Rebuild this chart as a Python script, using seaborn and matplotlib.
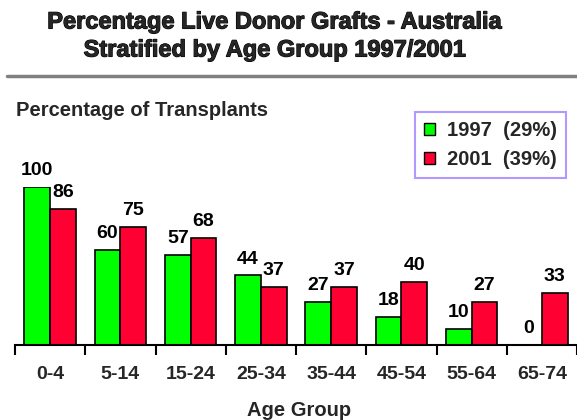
import matplotlib
matplotlib.use("Agg")
import matplotlib.pyplot as plt
import matplotlib.patheffects as pe
import seaborn as sns
import pandas as pd
from matplotlib.lines import Line2D
from matplotlib.patches import Patch

age_groups = ["0-4", "5-14", "15-24", "25-34", "35-44", "45-54", "55-64", "65-74"]
values_1997 = [100, 60, 57, 44, 27, 18, 10, 0]
values_2001 = [86, 75, 68, 37, 37, 40, 27, 33]
series_labels = ["1997  (29%)", "2001  (39%)"]
colors = ["#00FF00", "#FF0033"]

df = pd.DataFrame({
    "age": age_groups * 2,
    "value": values_1997 + values_2001,
    "year": [series_labels[0]] * len(age_groups) + [series_labels[1]] * len(age_groups),
})

sns.set_theme(style="white")
plt.rcParams["font.family"] = ["Liberation Sans", "DejaVu Sans"]

W, H = 577, 420
fig = plt.figure(figsize=(W / 100, H / 100), dpi=100)
# axes: x from 15 px to 577 px; baseline at y=345 px; 100 at y=187 px
ax = fig.add_axes([15 / W, (H - 345) / H, (W - 15) / W, (345 - 187) / H])

sns.barplot(data=df, x="age", y="value", hue="year", palette=colors,
            width=0.73, gap=0, edgecolor="black", linewidth=1.2,
            saturation=1, ax=ax, legend=False)

ax.set_xlim(-0.5, -0.5 + (W - 15) / 71)
ax.set_ylim(0, 100)

# value labels
for container in ax.containers:
    for bar in container:
        h = bar.get_height()
        ax.text(bar.get_x() + bar.get_width() / 2, h + 5, f"{int(h)}",
                ha="center", va="bottom", fontsize=14, fontweight="bold",
                color="black", clip_on=False)

for s in ["top", "right", "left"]:
    ax.spines[s].set_visible(False)
ax.spines["bottom"].set_color("black")
ax.spines["bottom"].set_linewidth(1.5)
ax.set_yticks([])
ax.set_ylabel("")
ax.set_xlabel("Age Group", fontsize=14.5, fontweight="bold")
ax.xaxis.set_label_coords((299 - 15) / (W - 15), -(401 - 345) / (345 - 187))
ax.set_xticks(range(len(age_groups)))
ax.set_xticklabels(age_groups, fontsize=14, fontweight="bold")
ax.tick_params(axis="x", which="major", length=0, pad=15)
ax.set_xticks([i - 0.5 for i in range(len(age_groups) + 1)], minor=True)
ax.tick_params(axis="x", which="minor", length=7, width=1.5, color="black",
               direction="out", bottom=True)

# title
stroke = [pe.withStroke(linewidth=0.8, foreground="black")]
fig.text(275 / W, 1 - 22 / H, "Percentage Live Donor Grafts - Australia",
         ha="center", va="center", fontsize=17, fontweight="heavy",
         path_effects=stroke)
fig.text(275 / W, 1 - 50 / H, "Stratified by Age Group 1997/2001",
         ha="center", va="center", fontsize=17, fontweight="heavy",
         path_effects=stroke)
fig.add_artist(Line2D([7 / W, 1], [1 - 76 / H, 1 - 76 / H],
                      transform=fig.transFigure, color="#808080", linewidth=2.5))
fig.text(16 / W, 1 - 111 / H, "Percentage of Transplants",
         ha="left", va="center", fontsize=14.5, fontweight="bold")

handles = [Patch(facecolor=c, edgecolor="black", linewidth=1) for c in colors]
leg = fig.legend(handles, series_labels, loc="upper left",
                 bbox_to_anchor=(415 / W, 1 - 112 / H), frameon=True,
                 prop={"size": 14.5, "weight": "bold"}, handlelength=0.55,
                 handleheight=0.55, handletextpad=0.6, borderpad=0.45,
                 borderaxespad=0, labelspacing=0.5, fancybox=False)
leg.get_frame().set_edgecolor("#9F7FFF")
leg.get_frame().set_linewidth(1.5)

fig.savefig("out.png", dpi=100)
